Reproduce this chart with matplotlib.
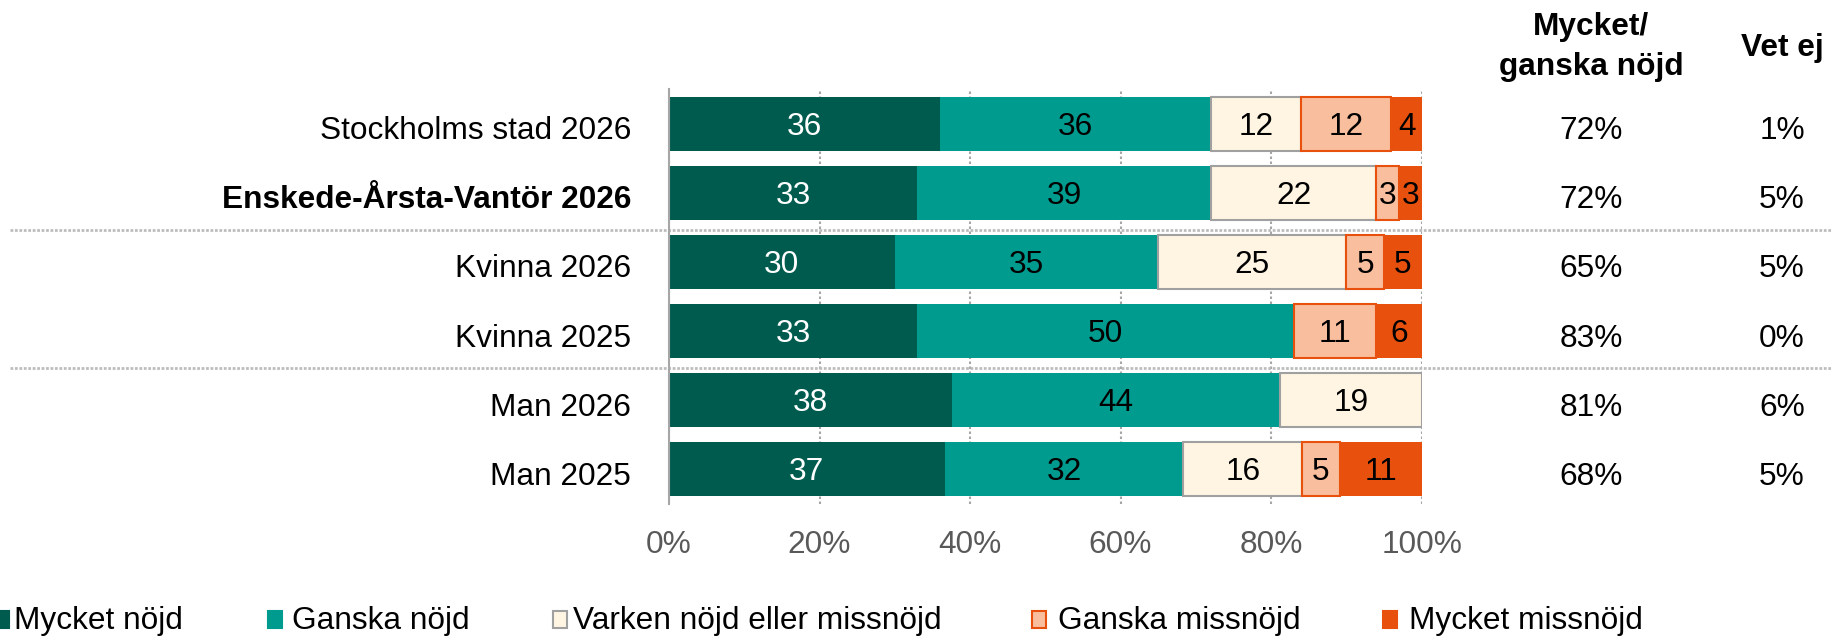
import numpy as np
import matplotlib
matplotlib.use("Agg")
import matplotlib.pyplot as plt
from matplotlib.transforms import blended_transform_factory
from matplotlib.patches import Rectangle
from matplotlib.lines import Line2D

plt.rcParams['font.family'] = ['Liberation Sans', 'DejaVu Sans']

# ---- data -------------------------------------------------------------
categories = ["Stockholms stad 2026", "Enskede-Årsta-Vantör 2026",
              "Kvinna 2026", "Kvinna 2025", "Man 2026", "Man 2025"]
bold_rows = [1]

series_names = ["Mycket nöjd", "Ganska nöjd", "Varken nöjd eller missnöjd",
                "Ganska missnöjd", "Mycket missnöjd"]
mycket_nojd     = [36, 33, 30, 33, 38, 37]
ganska_nojd     = [36, 39, 35, 50, 44, 32]
varken          = [12, 22, 25, 0, 19, 16]
ganska_missnojd = [12, 3, 5, 11, 0, 5]
mycket_missnojd = [4, 3, 5, 6, 0, 11]

satisfied_share = ["72%", "72%", "65%", "83%", "81%", "68%"]
dont_know_share = ["1%", "5%", "5%", "0%", "6%", "5%"]

x_ticks = [0, 20, 40, 60, 80, 100]
x_tick_labels = ["0%", "20%", "40%", "60%", "80%", "100%"]

# ---- styling ----------------------------------------------------------
fills  = ["#005B4F", "#009B8F", "#FFF5E2", "#F8BE9D", "#E8500E"]
edges  = [None, None, "#A0A0A0", "#E8500E", None]
text_c = ["white", "black", "black", "black", "black"]
FS = 22.8

W, H = 1833, 637
fig = plt.figure(figsize=(W / 100, H / 100), dpi=100)
fig.patch.set_facecolor("white")

ax_left, ax_right = 669 / W, 1421.6 / W
ax_top, ax_bot = 1 - 89 / H, 1 - 504 / H
ax = fig.add_axes([ax_left, ax_bot, ax_right - ax_left, ax_top - ax_bot])

values = np.array([mycket_nojd, ganska_nojd, varken, ganska_missnojd,
                   mycket_missnojd], dtype=float)
totals = values.sum(axis=0)
shares = values / totals * 100.0          # 100 % stacked
pos = np.arange(len(categories))
bar_h = 0.78

lefts = np.zeros(len(categories))
for k in range(len(series_names)):
    w = shares[k]
    m = values[k] > 0
    if edges[k] is None:
        ax.barh(pos[m], w[m], left=lefts[m], height=bar_h, color=fills[k],
                edgecolor=fills[k], linewidth=0, zorder=2)
    else:
        ax.barh(pos[m], w[m], left=lefts[m], height=bar_h, color=fills[k],
                edgecolor=edges[k], linewidth=1.5, zorder=2)
    for i in pos[m]:
        ax.text(lefts[i] + w[i] / 2, i + 0.159, f"{int(values[k][i])}",
                ha="center", va="baseline", fontsize=FS, color=text_c[k],
                zorder=3)
    lefts = lefts + w

ax.set_xlim(0, 100)
ax.set_ylim(len(categories) - 0.5, -0.5)
ax.set_xticks(x_ticks)
ax.set_xticklabels(x_tick_labels, fontsize=FS, color="#595959")
ax.tick_params(axis="x", length=0, pad=18.5)
ax.set_yticks([])
ax.set_axisbelow(True)
ax.xaxis.grid(True, linestyle=(0, (1.2, 1.2)), color="#A6A6A6", linewidth=1.5)
for s in ["top", "right", "bottom"]:
    ax.spines[s].set_visible(False)
ax.spines["left"].set_color("#A6A6A6")
ax.spines["left"].set_linewidth(1.5)
ax.spines["left"].set_zorder(4)

# category labels and side columns
tr = blended_transform_factory(fig.transFigure, ax.transData)
for i, name in enumerate(categories):
    ax.text(631 / W, i + 0.224, name, transform=tr, ha="right", va="baseline",
            fontsize=FS, fontweight="bold" if i in bold_rows else "normal",
            clip_on=False)
    ax.text(1591 / W, i + 0.224, satisfied_share[i], transform=tr,
            ha="center", va="baseline", fontsize=FS, clip_on=False)
    ax.text(1782 / W, i + 0.224, dont_know_share[i], transform=tr,
            ha="center", va="baseline", fontsize=FS, clip_on=False)

# group separators
for yb in [1.5, 3.5]:
    ax.add_line(Line2D([10 / W, 1.0], [yb + 0.04, yb + 0.04], transform=tr,
                       color="#BDBDBD", linewidth=2, linestyle=(0, (1, 0.6)),
                       clip_on=False, zorder=1))

# column headers
fig.text(1591 / W, 1 - 35.5 / H, "Mycket/", ha="center", va="baseline",
         fontsize=FS, fontweight="bold")
fig.text(1591 / W, 1 - 75.5 / H, "ganska nöjd", ha="center", va="baseline",
         fontsize=FS, fontweight="bold")
fig.text(1782 / W, 1 - 56 / H, "Vet ej", ha="center", va="baseline",
         fontsize=FS, fontweight="bold")

# legend
sq_left = [-5, 268, 553, 1032, 1383]
txt_left = [14, 292, 573, 1058, 1409]
for k, name in enumerate(series_names):
    ec = edges[k] if edges[k] is not None else fills[k]
    fig.add_artist(Rectangle((sq_left[k] / W, 1 - 628 / H), 14 / W, 17 / H,
                             transform=fig.transFigure, facecolor=fills[k],
                             edgecolor=ec, linewidth=1.5))
    fig.text(txt_left[k] / W, 1 - 629 / H, name, ha="left", va="baseline",
             fontsize=FS)

fig.savefig("out.png", dpi=100, facecolor="white")
